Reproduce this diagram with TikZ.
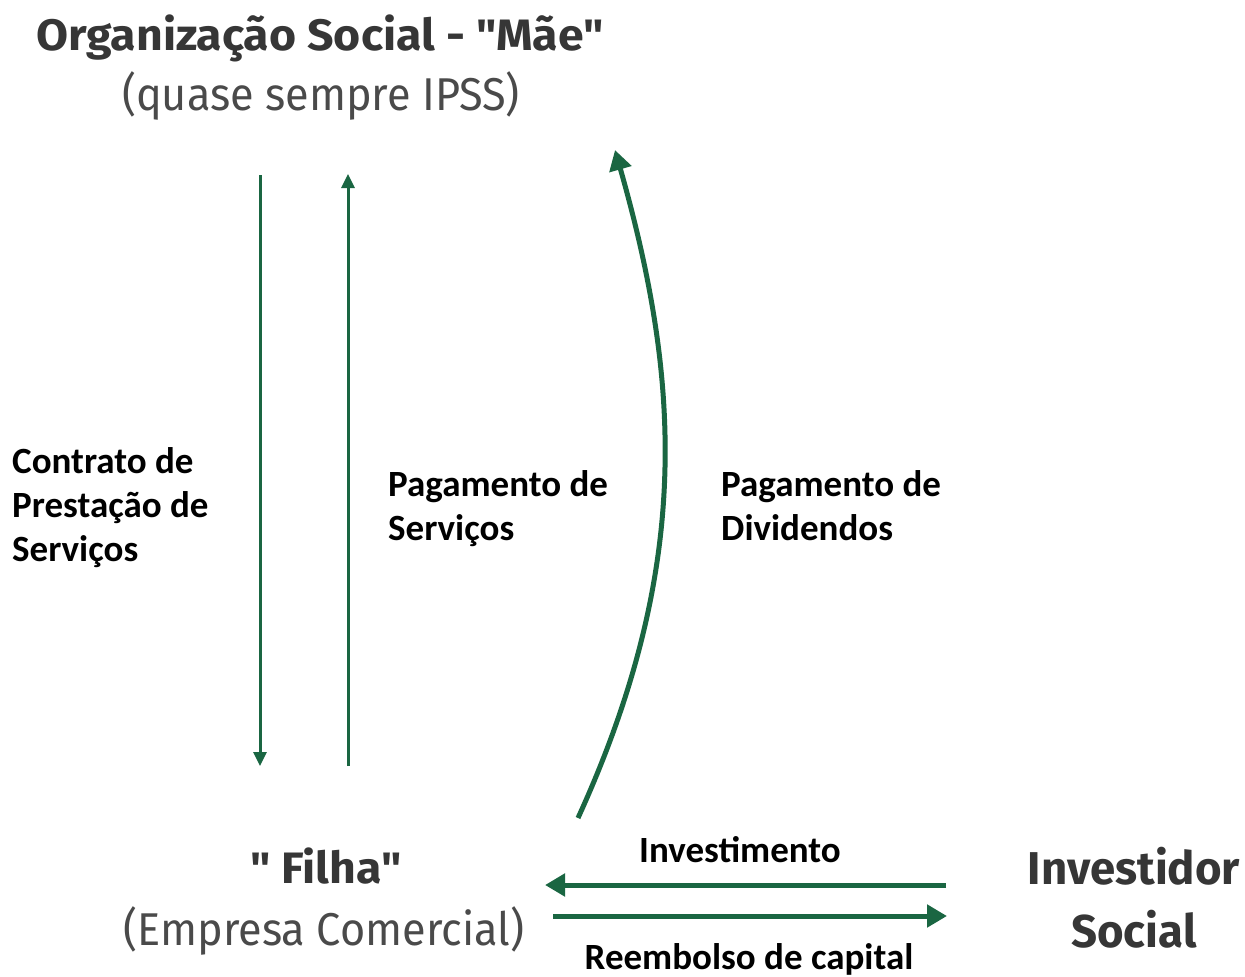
\documentclass[tikz,border=0pt]{standalone}
\usepackage{fontspec}
\setmainfont{Carlito}
\newfontfamily\firatitulo[FakeStretch=1.055]{Fira Sans}
\newfontfamily\firasub[FakeStretch=0.94]{Fira Sans}
\newfontfamily\firainv[FakeStretch=0.99]{Fira Sans}
\usetikzlibrary{arrows.meta}

\definecolor{verde}{HTML}{1A6642}
\definecolor{cinza}{HTML}{363636}

\tikzset{
  entidade/.style={font=\firatitulo\bfseries\fontsize{44}{50}\selectfont, text=cinza, inner sep=0pt, anchor=base},
  subtitulo/.style={font=\firasub\fontsize{46}{52}\selectfont, text=cinza!90, inner sep=0pt, anchor=base},
  investidorfonte/.style={font=\firainv\bfseries\fontsize{46}{52}\selectfont},
  rotulo/.style={font=\bfseries\fontsize{37}{44}\selectfont, inner sep=0pt, align=left, anchor=base west},
  fino/.style={verde, line width=3pt, -{Triangle[length=14pt,width=13pt]}},
  grosso/.style={verde, line width=5pt, -{Triangle[length=20pt,width=22pt]}}
}

\begin{document}
\begin{tikzpicture}[x=1pt,y=-1pt]

\useasboundingbox (0,0) rectangle (1245,977);

% Mae
\node[entidade] (mae) at (320,50) {Organização Social - "Mãe"};
\node[subtitulo] (ipss) at (321,110) {(quase sempre IPSS)};

% Filha
\node[entidade] (filha) at (326,883) {" Filha"};
\node[subtitulo] (empresa) at (324,945) {(Empresa Comercial)};

% Investidor
\node[entidade, investidorfonte] (investidor) at (1134,884) {Investidor};
\node[entidade, investidorfonte] (social) at (1134,947) {Social};

% Servicos
\coordinate (contratoA) at (260,175);
\coordinate (contratoB) at (260,766);
\draw[fino] (contratoA) -- (contratoB);
\node[rotulo] (contrato) at (12,561) {Contrato de\\Prestação de\\Serviços};

\coordinate (pagA) at (348,766);
\coordinate (pagB) at (348,174);
\draw[fino] (pagA) -- (pagB);
\node[rotulo] (pagamento) at (388,540) {Pagamento de\\Serviços};

% Dividendos
\coordinate (divA) at (578,818);
\coordinate (divB) at (615,150);
\draw[grosso] (divA) .. controls (692,568) and (681,382) .. (divB);
\node[rotulo] (dividendos) at (721,540) {Pagamento de\\Dividendos};

% Capital
\coordinate (invA) at (946,885);
\coordinate (invB) at (545,885);
\draw[grosso] (invA) -- (invB);
\node[rotulo, anchor=base] (investimento) at (740,862) {Investimento};

\coordinate (reeA) at (553,916);
\coordinate (reeB) at (947,916);
\draw[grosso] (reeA) -- (reeB);
\node[rotulo, anchor=base] (reembolso) at (749,969) {Reembolso de capital};

\end{tikzpicture}
\end{document}
